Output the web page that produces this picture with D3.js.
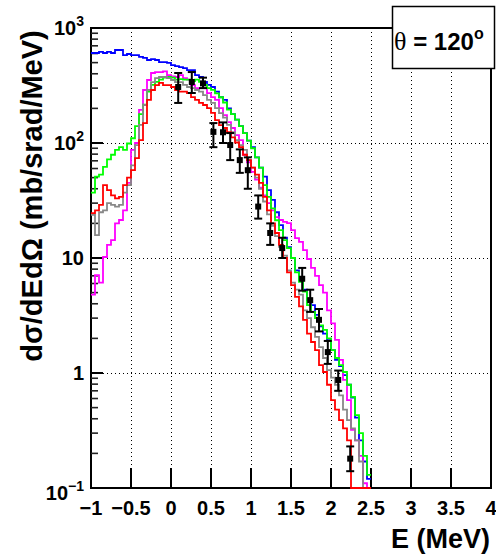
<!DOCTYPE html>
<html>
<head>
<meta charset="utf-8">
<script src="https://cdn.jsdelivr.net/npm/d3@7"></script>
<style>
body { margin: 0; background: #fff; }
svg { display: block; font-family: "Liberation Sans", Arial, sans-serif; font-weight: bold; }
</style>
</head>
<body>
<script>
// bin width 0.05 MeV, 70 bins from -1 to 2.5
const binEdges = d3.range(71).map(i => -1 + i * 0.05);

const blueVals = [606,606,620,606,620,606,644,644,582,594, 582,582,560,550,527,537,527,505,505,497,
  475,466,457,448,431,431,390,375,340,320, 307,280,250,237,200,178,160,140,122,105,
  92,75,61,51,39,32,25,19.3,15,12.4, 10,7.8,6.4,5.3,4.3,3.9,3.2,2.55,2.2,1.93,
  1.58,1.3,1.15,0.96,0.79,0.61,0.41,0.26,0.17,0.12];
const greenVals = [37,51,53,62,72,79,87,92,87,99, 110,140,178,215,280,320,340,355,370,375,
  370,355,360,355,355,345,355,340,320,300, 290,270,250,225,195,178,160,140,122,105,
  90,75,61,43,34,27,21.3,17.5,14.3,12.2, 10,7.5,6.2,5.1,3.9,3.4,3.0,2.6,2.37,2.0,
  1.58,1.35,1.17,1.02,0.79,0.62,0.43,0.30,0.19,0.13];
const magentaVals = [4.8,7.1,6.1,10.2,13,14.3,20,21.4,26,45, 87,100,194,289,353,406,414,414,420,390,
  380,375,390,367,355,319,300,300,300,272, 251,237,201,175,152,135,117,106,79,68,
  56,48,41,35,30,26,22.7,21.4,20.6,20.1, 17.5,14.9,13.8,11.7,9.8,8.2,7.0,5.8,5.0,3.5,
  2.7,1.94,1.3,0.87,0.58,0.32,0.26,0.19,0.11,0];
const grayVals = [23.7,15.8,25,26,30,29,28,29,37,43, 64,96,144,214,289,339,367,375,375,367,
  353,339,339,320,307,300,289,280,261,237, 223,201,182,166,144,124,106,96,87,71,
  61,50,40,31,24,19,15.5,12.5,10.5,7.8, 6.1,5.3,4.8,3.5,3.0,2.5,2.06,1.68,1.35,1.06,
  0.91,0.79,0.64,0.48,0.39,0.33,0.26,0.17,0,0];
const redVals = [24.6,26,29,43,39,35,33,34,43,50, 58,74,106,149,237,289,319,333,319,319,
  307,289,280,280,272,251,237,223,214,201, 183,158,143,135,124,112,101,92,79,71,
  61,53,45,34,26,20,16.5,13,10,7.5, 5.8,4.6,3.8,2.9,2.2,1.86,1.58,1.17,1.02,0.79,
  0.58,0.48,0.39,0.33,0.26,0,0,0,0,0];

// measured points
const dataE  = [0.09,0.26,0.40,0.53,0.65,0.74,0.86,0.96,1.09,1.24,1.39,1.64,1.74,1.85,1.96,2.09,2.24];
const dataV  = [307,339,330,125,124,96,71,58,28,16.5,12.2,6.6,4.3,2.9,1.52,0.87,0.18];
const dataLo = [223,272,300,92,100,71,55,40,22,13,10,5.2,3.4,2.3,1.2,0.7,0.14];
const dataHi = [406,414,370,149,151,122,88,75,35,20,15,8.2,5.3,3.6,1.9,1.05,0.23];

const xTicks = [-1,-0.5,0,0.5,1,1.5,2,2.5,3,3.5,4];
const xTickLabels = ["\u22121","\u22120.5","0","0.5","1","1.5","2","2.5","3","3.5","4"];
const yMajor = [0.1,1,10,100,1000];
const yTickBase = ["10","1","10","10","10"];
const yTickExp = ["\u22121","","","2","3"];
const yGrid = [1,10,100];

const series = [
  {vals: blueVals, color: "#0000ff"},
  {vals: magentaVals, color: "#ff00ff"},
  {vals: greenVals, color: "#00ff00"},
  {vals: grayVals, color: "#888888"},
  {vals: redVals, color: "#ff0000"}
];

const width = 496, height = 559;
const x = d3.scaleLinear().domain([-1, 4]).range([91, 491]);
const y = d3.scaleLog().domain([0.1, 1000]).range([488, 28]);

const svg = d3.select("body").append("svg")
  .attr("width", width).attr("height", height);

svg.append("defs").append("clipPath").attr("id", "plot")
  .append("rect").attr("x", 91).attr("y", 26).attr("width", 400).attr("height", 463);

// grid
const grid = svg.append("g").attr("stroke", "#000").attr("stroke-width", 1).attr("stroke-dasharray", "1,3");
grid.selectAll(".gx").data(xTicks.slice(1, -1)).enter().append("line")
  .attr("x1", d => Math.round(x(d)) + 0.5).attr("x2", d => Math.round(x(d)) + 0.5)
  .attr("y1", y(1000)).attr("y2", y(0.1));
grid.selectAll(".gy").data(yGrid).enter().append("line")
  .attr("y1", d => Math.round(y(d)) + 0.5).attr("y2", d => Math.round(y(d)) + 0.5)
  .attr("x1", x(-1)).attr("x2", x(4));

// frame
svg.append("rect").attr("x", x(-1)).attr("y", y(1000))
  .attr("width", x(4) - x(-1)).attr("height", y(0.1) - y(1000))
  .attr("fill", "none").attr("stroke", "#000").attr("stroke-width", 2);

// x ticks
svg.append("g").selectAll("line").data(xTicks.slice(1, -1)).enter().append("line")
  .attr("x1", d => x(d)).attr("x2", d => x(d))
  .attr("y1", y(0.1)).attr("y2", y(0.1) - 20)
  .attr("stroke", "#000").attr("stroke-width", 2);

// y ticks (major + log minor)
const yMinor = [];
[0.1, 1, 10, 100].forEach(dec => { for (let k = 2; k <= 9; k++) yMinor.push(dec * k); });
svg.append("g").selectAll("line").data(yMajor.slice(1, -1)).enter().append("line")
  .attr("x1", x(-1)).attr("x2", x(-1) + 12)
  .attr("y1", d => y(d)).attr("y2", d => y(d))
  .attr("stroke", "#000").attr("stroke-width", 2);
svg.append("g").selectAll("line").data(yMinor).enter().append("line")
  .attr("x1", x(-1)).attr("x2", x(-1) + 7)
  .attr("y1", d => y(d)).attr("y2", d => y(d))
  .attr("stroke", "#222").attr("stroke-width", 1.6);

// histograms
const line = d3.line()
  .x(d => x(d[0]))
  .y(d => y(Math.max(d[1], 0.1)))
  .curve(d3.curveStepAfter);
const hg = svg.append("g").attr("clip-path", "url(#plot)");
series.forEach(s => {
  const pts = s.vals.map((v, i) => [binEdges[i], v]);
  pts.push([binEdges[binEdges.length - 1], s.vals[s.vals.length - 1]]);
  hg.append("path").datum(pts)
    .attr("d", line)
    .attr("fill", "none")
    .attr("stroke", s.color)
    .attr("stroke-width", 1.8);
});

// data points with error bars
const pts = dataE.map((e, i) => ({e, v: dataV[i], lo: dataLo[i], hi: dataHi[i]}));
const pg = svg.append("g").attr("stroke", "#000").attr("stroke-width", 2);
pg.selectAll(".eb").data(pts).enter().append("line")
  .attr("x1", d => x(d.e)).attr("x2", d => x(d.e))
  .attr("y1", d => y(d.hi)).attr("y2", d => y(d.lo));
pg.selectAll(".ch").data(pts).enter().append("line")
  .attr("x1", d => x(d.e) - 4).attr("x2", d => x(d.e) + 4)
  .attr("y1", d => y(d.hi)).attr("y2", d => y(d.hi));
pg.selectAll(".cl").data(pts).enter().append("line")
  .attr("x1", d => x(d.e) - 4).attr("x2", d => x(d.e) + 4)
  .attr("y1", d => y(d.lo)).attr("y2", d => y(d.lo));
svg.append("g").selectAll("rect").data(pts).enter().append("rect")
  .attr("x", d => x(d.e) - 3).attr("y", d => y(d.v) - 3)
  .attr("width", 6).attr("height", 6).attr("fill", "#000");

// x tick labels
svg.append("g").selectAll("text").data(xTicks).enter().append("text")
  .attr("x", d => x(d)).attr("y", 515)
  .attr("text-anchor", "middle").attr("font-size", 20)
  .text((d, i) => xTickLabels[i]);

// y tick labels
const yl = svg.append("g").selectAll("text").data(yMajor).enter().append("text")
  .attr("x", 84)
  .attr("y", (d, i) => y(d) + (i === 0 ? 12 : 7))
  .attr("text-anchor", "end").attr("font-size", 20);
yl.append("tspan").text((d, i) => yTickBase[i]);
yl.append("tspan").attr("font-size", 14).attr("dy", -9).text((d, i) => yTickExp[i]);

// axis titles
svg.append("text").attr("x", 490).attr("y", 548)
  .attr("text-anchor", "end").attr("font-size", 27).text("E (MeV)");
svg.append("text").attr("transform", "translate(42,196) rotate(-90)")
  .attr("text-anchor", "middle").attr("font-size", 29)
  .text("d\u03c3/dEd\u03a9 (mb/srad/MeV)");

// angle box
svg.append("rect").attr("x", 392.5).attr("y", 6.5).attr("width", 102).attr("height", 62)
  .attr("fill", "#fff").attr("stroke", "#000").attr("stroke-width", 1.5);
const t = svg.append("text").attr("x", 394).attr("y", 50).attr("font-size", 24);
t.append("tspan").attr("font-family", "'Liberation Serif', serif").attr("font-weight", "normal")
  .attr("font-size", 26).text("\u03b8");
t.append("tspan").text(" = 120");
t.append("tspan").attr("font-size", 16).attr("dy", -11).text("o");
</script>
</body>
</html>
